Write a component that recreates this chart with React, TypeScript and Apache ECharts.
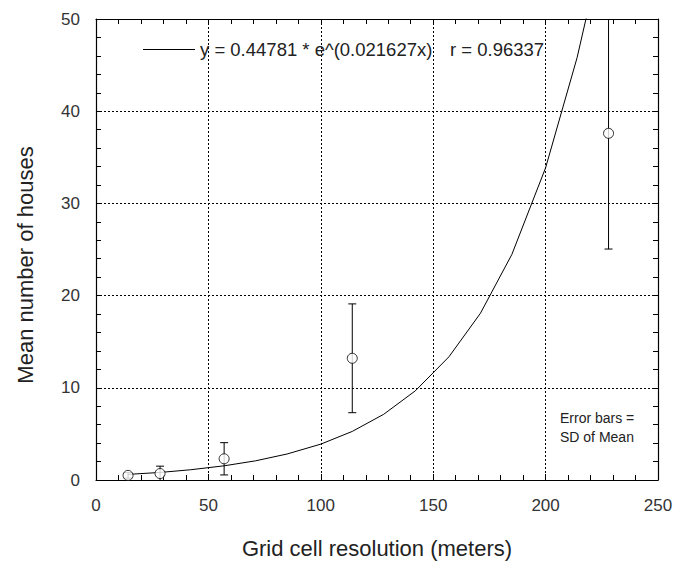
import React, { useEffect, useRef } from "react";
import * as echarts from "echarts";

const resolution = [14.25, 28.5, 57, 114, 228];
const meanHouses = [0.5, 0.7, 2.3, 13.2, 37.6];
const sdMean = [0.3, 0.8, 1.75, 5.9, 12.55];

// Fitted curve as drawn
const curveX = [14.25, 28.5, 42, 57, 71, 85, 100, 114, 128, 142, 157, 171, 185, 200, 214, 222];
const curveY = [0.61, 0.82, 1.11, 1.54, 2.08, 2.82, 3.89, 5.27, 7.13, 9.66, 13.36, 18.08, 24.47, 33.86, 45.8, 54.3];

const xTicks = [0, 50, 100, 150, 200, 250];
const yTicks = [0, 10, 20, 30, 40, 50];

const fitLabel = "y = 0.44781 * e^(0.021627x)";
const rLabel = "r = 0.96337";
const xName = "Grid cell resolution (meters)";
const yName = "Mean number of houses";
const noteLines = ["Error bars =", "SD of Mean"];

const FONT = "'Liberation Sans', Arial, Helvetica, sans-serif";

export default function App() {
  const ref = useRef<HTMLDivElement>(null);
  useEffect(() => {
    if (!ref.current) return;
    const chart = echarts.init(ref.current, undefined, { renderer: "svg" });
    const curveData = curveX.map((x, i) => [x, curveY[i]]);
    const pts = resolution.map((x, i) => [x, meanHouses[i]]);
    const errs = resolution.map((x, i) => [x, meanHouses[i], meanHouses[i] - sdMean[i], meanHouses[i] + sdMean[i]]);
    const axisCommon = {
      type: "value" as const,
      axisLine: { show: true, onZero: false, lineStyle: { color: "#000", width: 1.2 } },
      axisTick: { show: true, inside: true, length: 6, lineStyle: { color: "#000" } },
      minorTick: { show: true, splitNumber: 5, length: 5, lineStyle: { color: "#000" } },
    };
    const option: any = {
      animation: false,
      backgroundColor: "#fff",
      grid: { left: 96, right: 26, top: 19, bottom: 87, containLabel: false },
      legend: {
        data: [fitLabel],
        left: 143,
        top: 40,
        padding: 0,
        itemWidth: 52,
        itemHeight: 14,
        itemGap: 0,
        icon: "path://M0,7 L52,7 L52,7.8 L0,7.8 Z",
        selectedMode: false,
        formatter: () => `{a|${fitLabel}}{b|${rLabel}}`,
        textStyle: {
          rich: {
            a: { fontFamily: FONT, fontSize: 18.5, color: "#222", width: 250 },
            b: { fontFamily: FONT, fontSize: 18.5, color: "#222" },
          },
        },
      },
      xAxis: [
        {
          ...axisCommon,
          min: 0,
          max: 250,
          interval: 50,
          axisLabel: { show: true, fontFamily: FONT, fontSize: 17, color: "#333", margin: 17 },
          splitLine: { show: true, lineStyle: { type: [2, 2], color: "#000", width: 1 } },
          data: xTicks,
        },
        {
          ...axisCommon,
          position: "top",
          min: 0,
          max: 250,
          interval: 50,
          axisLabel: { show: false },
          splitLine: { show: false },
        },
      ],
      yAxis: [
        {
          ...axisCommon,
          min: 0,
          max: 50,
          interval: 10,
          axisLabel: { show: true, fontFamily: FONT, fontSize: 17, color: "#333", margin: 16 },
          splitLine: { show: true, lineStyle: { type: [2, 2], color: "#000", width: 1 } },
        },
        {
          ...axisCommon,
          position: "right",
          min: 0,
          max: 50,
          interval: 10,
          axisLabel: { show: false },
          splitLine: { show: false },
        },
      ],
      graphic: [
        {
          type: "text",
          x: 25,
          y: 265,
          rotation: Math.PI / 2,
          style: { text: yName, fontFamily: FONT, fontSize: 22, fill: "#222", align: "center", verticalAlign: "middle" },
        },
        {
          type: "text",
          x: 377,
          y: 548,
          style: { text: xName, fontFamily: FONT, fontSize: 22, fill: "#222", align: "center", verticalAlign: "middle" },
        },
        {
          type: "text",
          x: 560,
          y: 427,
          style: { text: noteLines.join("\n"), fontFamily: FONT, fontSize: 14, lineHeight: 19, fill: "#222", align: "left", verticalAlign: "middle" },
        },
      ],
      series: [
        {
          name: fitLabel,
          type: "line",
          data: curveData,
          showSymbol: false,
          symbol: "none",
          clip: true,
          lineStyle: { color: "#000", width: 1 },
          itemStyle: { color: "#000" },
        },
        {
          type: "custom",
          data: errs,
          clip: true,
          renderItem: (params: any, api: any) => {
            const x = api.value(0);
            const lo = api.coord([x, api.value(2)]);
            const hi = api.coord([x, api.value(3)]);
            const cw = 4;
            const style = { stroke: "#000", lineWidth: 1 };
            return {
              type: "group",
              children: [
                { type: "line", shape: { x1: lo[0], y1: lo[1], x2: hi[0], y2: hi[1] }, style },
                { type: "line", shape: { x1: lo[0] - cw, y1: lo[1], x2: lo[0] + cw, y2: lo[1] }, style },
                { type: "line", shape: { x1: hi[0] - cw, y1: hi[1], x2: hi[0] + cw, y2: hi[1] }, style },
              ],
            };
          },
          z: 3,
        },
        {
          type: "scatter",
          data: pts,
          symbol: "circle",
          symbolSize: 10,
          itemStyle: { color: "#fff", borderColor: "#000", borderWidth: 1 },
          z: 4,
        },
      ],
    };
    chart.setOption(option);
    return () => chart.dispose();
  }, []);
  return <div ref={ref} style={{ width: 684, height: 567, position: "absolute", left: 0, top: 0 }} />;
}
